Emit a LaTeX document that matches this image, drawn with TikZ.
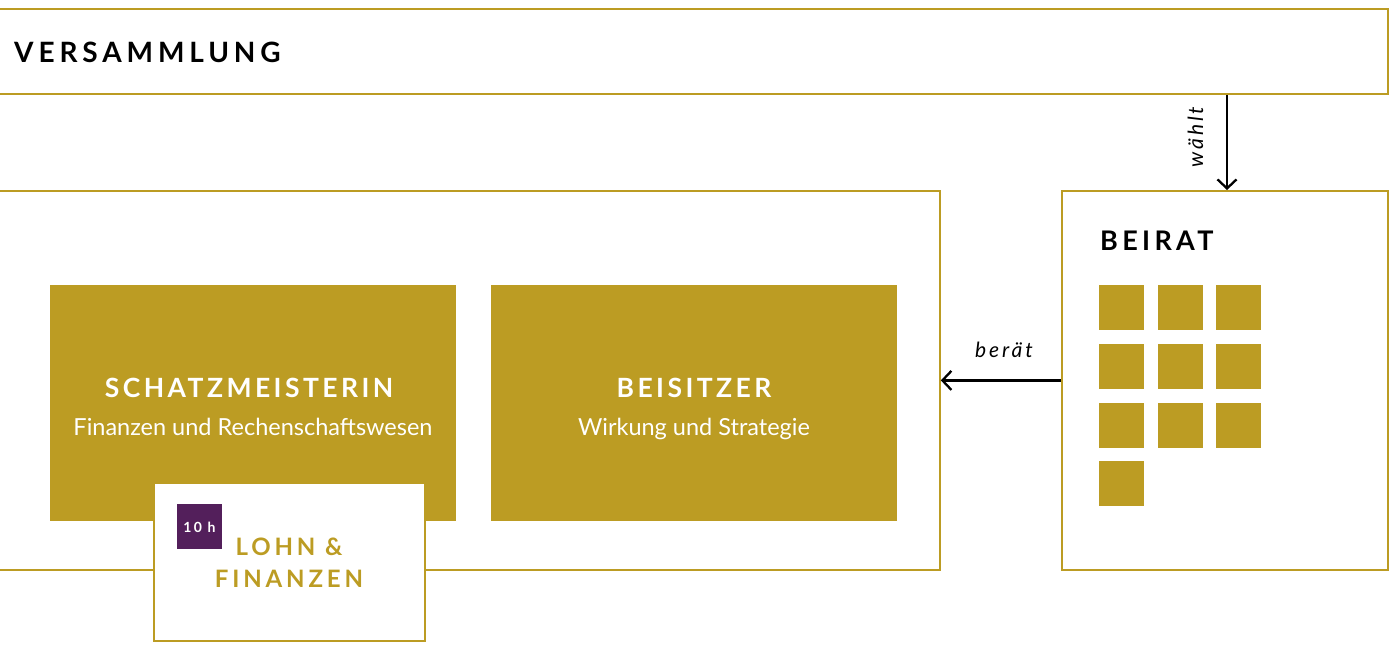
\documentclass[tikz,border=0pt]{standalone}
\usepackage{fontspec}
\setmainfont{Lato}
\newfontfamily\spaced{Lato}[LetterSpace=16]
\newfontfamily\spacedt{Lato}[LetterSpace=13]
\newfontfamily\spacedv{Lato}[LetterSpace=17.5]
\newfontfamily\spacedit{Lato}[LetterSpace=14]
\usetikzlibrary{arrows.meta}
\definecolor{gold}{HTML}{BC9C23}
\definecolor{plum}{HTML}{531F5B}
\begin{document}
\begin{tikzpicture}[x=1pt,y=-1pt,
  frame/.style={draw=gold,line width=1.8pt,inner sep=0pt,anchor=north west,fill=white},
  goldbox/.style={fill=gold,inner sep=0pt,anchor=north west},
  sq/.style={fill=gold,inner sep=0pt,anchor=north west,minimum width=45pt,minimum height=45pt},
  title/.style={font=\spacedt\bfseries\fontsize{26.5}{30}\selectfont,text=white,anchor=base,inner sep=0pt},
  sub/.style={font=\fontsize{23.5}{27}\selectfont,text=white,anchor=base,inner sep=0pt},
  conn/.style={line width=2.3pt,-{Straight Barb[length=9pt,width=19pt,line width=2.3pt]}},
  lab/.style={font=\spacedit\itshape\fontsize{21}{24}\selectfont,inner sep=0pt}]
\useasboundingbox (0,0) rectangle (1390,659);
% Versammlung
\node[frame,minimum width=1392pt,minimum height=85pt] (vers) at (-5,8) {};
\node[font=\spacedv\bfseries\fontsize{28}{32}\selectfont,anchor=base west,inner sep=0pt] (verst) at (14,62) {VERSAMMLUNG};
% main box
\node[frame,minimum width=944pt,minimum height=379pt] (main) at (-5,190) {};
% Beirat box
\node[frame,minimum width=326pt,minimum height=379pt] (beirat) at (1061,190) {};
\node[font=\spaced\bfseries\fontsize{27}{30}\selectfont,anchor=base west,inner sep=0pt] (beiratt) at (1100,250) {BEIRAT};
% squares
\foreach \r/\c [count=\i] in {0/0,0/1,0/2,1/0,1/1,1/2,2/0,2/1,2/2,3/0}{
  \node[sq] (s\i) at (1099+58.5*\c,285+58.7*\r) {};
}
% gold boxes
\node[goldbox,minimum width=406pt,minimum height=236pt] (schatz) at (50,285) {};
\node[goldbox,minimum width=406pt,minimum height=236pt] (beis) at (491,285) {};
\node[title] (schatzt) at (249,397) {SCHATZMEISTERIN};
\node[sub] (schatzs) at (253,435) {Finanzen und Rechenschaftswesen};
\node[title] (beist) at (694,397) {BEISITZER};
\node[sub] (beiss) at (694,435) {Wirkung und Strategie};
% Lohn box
\node[frame,minimum width=271pt,minimum height=158pt] (lohn) at (153,482) {};
\node[fill=plum,inner sep=0pt,minimum width=45pt,minimum height=45pt,anchor=north west] (hrs) at (177,504) {};
\node[font=\spaced\bfseries\fontsize{14}{15}\selectfont,text=white,inner sep=0pt,anchor=base] (hrst) at (199.5,532) {10 h};
\node[font=\spaced\bfseries\fontsize{24}{26}\selectfont,text=gold,inner sep=0pt,anchor=base] (lohn1) at (289,555) {LOHN \&};
\node[font=\spaced\bfseries\fontsize{24}{26}\selectfont,text=gold,inner sep=0pt,anchor=base] (lohn2) at (289,587) {FINANZEN};
% connectors
\draw[conn] (vers.south -| 1227,0) -- (beirat.north -| 1227,0);
\node[lab,rotate=90,anchor=base] (waehlt) at (1203,137) {wählt};
\draw[conn] (beirat.west) -- (main.east);
\node[lab,anchor=base] (beraet) at (1004,357) {berät};
\end{tikzpicture}
\end{document}
